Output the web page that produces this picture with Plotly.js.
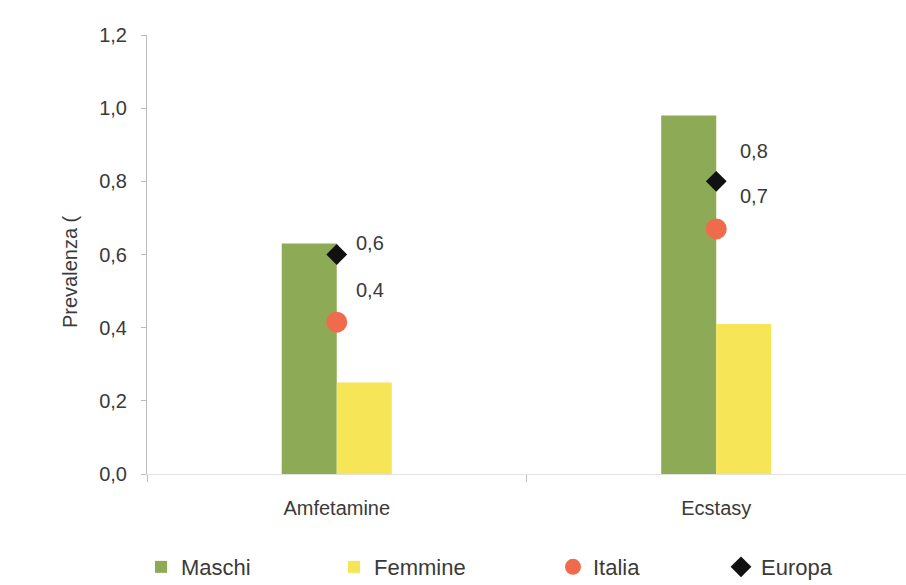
<!DOCTYPE html>
<html><head><meta charset="utf-8">
<script src="https://cdn.plot.ly/plotly-3.0.1.min.js"></script>
<style>body{margin:0;background:#fff}#c{width:906px;height:585px}</style>
</head><body><div id="c"></div>
<script>
const categories = ["Amfetamine", "Ecstasy"];
const maschi = [0.63, 0.98];
const femmine = [0.25, 0.41];
const italia = [0.415, 0.67];
const europa = [0.60, 0.80];
const yTickVals = [0, 0.2, 0.4, 0.6, 0.8, 1.0, 1.2];
const yTickText = ["0,0", "0,2", "0,4", "0,6", "0,8", "1,0", "1,2"];
const yTitle = "Prevalenza (";

const fmt = v => v.toFixed(1).replace(".", ",");
const font = {family: "Liberation Sans, Arial, sans-serif", color: "#3a3a3a"};

const traces = [
  {type: "bar", name: "Maschi", x: categories, y: maschi, marker: {color: "#8dab57"}, legend: "legend"},
  {type: "bar", name: "Femmine", x: categories, y: femmine, marker: {color: "#f6e657"}, legend: "legend2"},
  {type: "scatter", mode: "markers", name: "Italia", x: categories, y: italia,
   marker: {color: "#f06a4e", size: 21, symbol: "circle"}, legend: "legend3"},
  {type: "scatter", mode: "markers", name: "Europa", x: categories, y: europa,
   marker: {color: "#111111", size: 16, symbol: "diamond"}, legend: "legend4"}
];

// label offsets (style only)
const europaShift = [{x: 17, y: 12}, {x: 22, y: 30}];
const italiaShift = [{x: 17, y: 32}, {x: 22, y: 33}];

const annotations = [];
categories.forEach((c, i) => {
  annotations.push({x: c, y: europa[i], text: fmt(europa[i]), showarrow: false,
    xanchor: "left", xshift: europaShift[i].x, yshift: europaShift[i].y, font: {...font, size: 20}});
  annotations.push({x: c, y: italia[i], text: fmt(italia[i]), showarrow: false,
    xanchor: "left", xshift: italiaShift[i].x, yshift: italiaShift[i].y, font: {...font, size: 20}});
});
annotations.push({xref: "paper", yref: "paper", x: (70 - 147) / 759, y: (474 - 272) / 439,
  text: yTitle, textangle: -90, showarrow: false, xanchor: "center", yanchor: "middle",
  font: {...font, size: 20}});

const legBase = {orientation: "h", y: -0.212, yanchor: "middle", xanchor: "left",
  font: {...font, size: 22}, bgcolor: "rgba(0,0,0,0)", itemwidth: 30};
const px = p => (p - 147) / 759;

const layout = {
  width: 906, height: 585,
  margin: {l: 147, r: 0, t: 35, b: 111, pad: 0, autoexpand: false},
  paper_bgcolor: "#ffffff", plot_bgcolor: "#ffffff",
  font: font,
  barmode: "group", bargap: 0.71, bargroupgap: 0,
  xaxis: {type: "category", showline: true, linecolor: "#e2e2e2", linewidth: 1,
    ticks: "outside", tickson: "boundaries", ticklen: 7, tickcolor: "#bbbbbb",
    showgrid: false, tickfont: {...font, size: 20}, ticklabelstandoff: 16, automargin: false},
  yaxis: {range: [0, 1.2], tickvals: yTickVals, ticktext: yTickText,
    showline: true, linecolor: "#bcbcbc", linewidth: 1, ticks: "outside",
    ticklen: 5, tickcolor: "#bcbcbc", showgrid: false, zeroline: false,
    tickfont: {...font, size: 20}, ticklabelstandoff: 10, automargin: false},
  showlegend: true,
  legend: {...legBase, x: px(141)},
  legend2: {...legBase, x: px(334)},
  legend3: {...legBase, x: px(553)},
  legend4: {...legBase, x: px(721)},
  annotations: annotations
};

Plotly.newPlot("c", traces, layout, {displayModeBar: false, staticPlot: true});
</script></body></html>
